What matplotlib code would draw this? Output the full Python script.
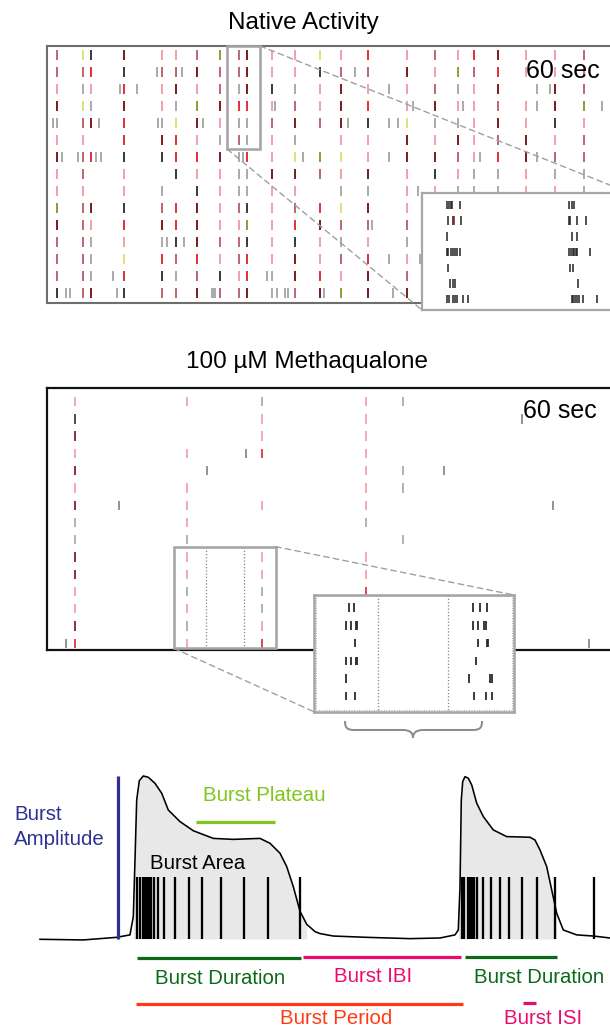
import numpy as np
import matplotlib
matplotlib.use("Agg")
import matplotlib.pyplot as plt
from matplotlib.patches import Rectangle, ConnectionPatch, PathPatch
from matplotlib.path import Path

plt.rcParams['font.family'] = ['Liberation Sans', 'DejaVu Sans']

W, H, DPI = 610, 1026, 100
PT = 72.0 / DPI  # points per pixel

# ======================= DATA =======================
# --- Native activity raster: network-burst times (s) and per-channel colour codes
native_burst_t = [1.03, 3.57, 4.37, 7.73, 11.47, 12.9, 14.97, 17.3, 19.2, 19.97, 22.47, 24.8,
                  27.3, 29.4, 32.13, 36.03, 38.8, 41.13, 42.73, 45.13, 47.87, 50.8, 53.7]
native_codes = [
    "mykdppmomdppyprpmprdppm",
    "mmrkmmdmmdppkmmdpomrppm",
    "pgprpdpmgdkgpdppmgpd.dm",
    "dygdpgodrrpmpdrpdppmpdo",
    "gmdrgydpggmdmdkyggpdpkp",
    "pp.rdrpgmgpg.ppdpdpmdpm",
    "dmrkkrrdgrpyoypddmprdmm",
    "pm.p.kppggddmpdpkpggpgg",
    "pp.pg.kpggpp.ggppgggppg",
    "omdkmrdpmkpmrydppmrdppm",
    "dmprdrdppoprdmmmpprdppm",
    "mmgpgkdmmkpkpgpgppmdpgm",
    "mmgyrmrpmrpdpmrppprdppm",
    "mmgrkgmkprgdrpdmpprdppm",
    "kmdkmmdmmdgmdoddpprdppm",
]
native_extra_row = [1, 1, 1, 2, 2, 2, 2, 2, 3, 3, 3, 3, 3, 4, 4, 4, 4, 4, 4, 4,
                    6, 6, 6, 6, 6, 6, 6, 6, 6, 8, 10, 11, 11, 12, 12, 13, 13,
                    14, 14, 14, 14, 14, 14, 14, 14, 14, 14, 14]
native_extra_t = [10.97, 13.47, 30.8, 7.3, 8.97, 34.23, 48.97, 50.3, 22.8, 36.63, 41.63, 48.97, 55.47,
                  0.63, 5.23, 11.13, 15.63, 30.13, 34.23, 35.13,
                  1.47, 3.13, 4.9, 5.37, 19.63, 25.63, 34.23, 43.3, 48.97, 37.13, 32.47, 11.97, 13.7,
                  34.23, 37.3, 6.57, 21.97,
                  1.9, 2.3, 6.97, 16.47, 16.63, 16.8, 22.97, 23.8, 24.13, 27.7, 34.63]
native_zoom_t = (18.0, 21.3)
native_zoom_rows = (-0.53, 5.53)
# zoomed inset (s within the zoom window, 7 channels)
native_inset = [
    [0.253, 0.273, 0.287, 0.303, 0.38, 1.473, 1.497, 1.52],
    [0.263, 0.313, 0.323, 0.39, 1.47, 1.48, 1.547, 1.637],
    [0.247, 1.497, 1.547],
    [0.247, 0.263, 0.287, 0.307, 0.33, 0.353, 0.38, 1.473, 1.487, 1.507, 1.52, 1.54, 1.553, 1.68],
    [0.26, 1.48, 1.513],
    [0.28, 0.307, 0.333, 1.56],
    [0.253, 0.273, 0.313, 0.33, 0.347, 0.407, 0.463, 1.497, 1.513, 1.53, 1.547, 1.573, 1.607, 1.753],
]
native_inset_red = (1, 0.323)

# --- 100 uM Methaqualone raster
meth_burst_t = [2.83, 13.95, 21.45, 31.92, 35.55]
meth_codes = ["pkdpdpdggddppdr", "p..p.pppgppgpgp", "gppr..p..ppggpr",
              "pppppppg.pprppp", "g...gg..g......"]
meth_extra_row = [3, 4, 4, 6, 6, 14, 14, 1]
meth_extra_t = [19.85, 15.99, 39.66, 7.23, 50.57, 1.92, 54.2, 47.48]
meth_zoom_t = (12.68, 22.86)
meth_zoom_rows = (8.40, 14.29)
meth_zoom_marks = [15.85, 19.74]
meth_inset = [
    [0.353, 0.397, 1.589, 1.662, 1.735],
    [0.317, 0.371, 0.418, 0.433, 1.589, 1.637, 1.698, 1.717],
    [0.415, 1.644, 1.727, 1.742],
    [0.324, 0.371, 0.418, 0.433, 1.618],
    [0.317, 1.553, 1.764, 1.778],
    [0.324, 0.411, 1.60, 1.717, 1.782],
]
meth_inset_marks = [0.637, 1.342]

# --- Burst schematic: population trace (time, amplitude) and spike times
trace_t = [40, 83.3, 116.7, 130, 133.3, 135, 136.7, 139.3, 143.3, 148.3, 155, 161.7, 168.3, 180,
           193.3, 213.3, 233.3, 260, 270, 280, 286.7, 293.3, 300, 306.7, 315, 320, 333.3, 366.7,
           410, 440, 455, 458.3, 460, 461.3, 462.7, 465, 468.3, 471.7, 476.7, 483.3, 493.3,
           506.7, 530, 535, 540, 546.7, 551.7, 556.7, 563.3, 576.7, 593.3, 610]
trace_a = [-0.002, -0.006, 0.01, 0.025, 0.137, 0.485, 0.853, 0.971, 1.0, 0.992, 0.955, 0.894,
           0.791, 0.72, 0.664, 0.617, 0.611, 0.617, 0.587, 0.526, 0.444, 0.321, 0.17, 0.09,
           0.045, 0.033, 0.018, 0.01, 0.002, 0.006, 0.025, 0.055, 0.321, 0.853, 0.965, 0.996,
           0.986, 0.945, 0.833, 0.751, 0.669, 0.628, 0.624, 0.607, 0.546, 0.444, 0.301, 0.158,
           0.055, 0.025, 0.018, 0.006]
burst_windows = [(133.3, 306.7), (458.3, 556.7)]
spike_t = [137.4, 139.7, 143, 145, 147.3, 149, 151, 154.3, 157.7, 164.3, 174.5, 188.5, 202,
           221, 244.3, 268.3, 300,
           461.7, 464, 468.3, 470.2, 472.1, 474, 476.7, 482.5, 490.5, 499.5, 509.3, 521.7,
           536.7, 555, 594.3]
spike_height = 0.38
amplitude_t = 117.7
amplitude = 1.0
plateau_span = (196, 275, 0.716)
measure_names = ["Burst Duration", "Burst IBI", "Burst Period", "Burst Duration", "Burst ISI"]
measure_start = [136.7, 302.7, 136.0, 465.0, 522.7]
measure_end = [300.7, 460.7, 462.7, 556.7, 536.0]
measure_level = [-0.115, -0.113, -0.399, -0.110, -0.391]
measure_colors = ["#0b6a16", "#ea0b6e", "#ff3a12", "#0b6a16", "#ea0b6e"]

# ======================= STYLE =======================
palette = {'p': '#f2a3a9', 'r': '#e2343d', 'm': '#bb6c73', 'd': '#7c2226',
           'g': '#acacac', 'k': '#3e3e3e', 'y': '#dfe27a', 'o': '#9c9a36'}
box_gray = '#a6a6a6'

fig = plt.figure(figsize=(W / DPI, H / DPI), dpi=DPI)


def px_axes(x0, y0, x1, y1, **kw):
    return fig.add_axes([x0 / W, 1 - y1 / H, (x1 - x0) / W, (y1 - y0) / H], **kw)


def clean(ax, color, lw):
    ax.set_xticks([])
    ax.set_yticks([])
    for s in ax.spines.values():
        s.set_color(color)
        s.set_linewidth(lw)


# ---------------- Panel 1: Native activity ----------------
ax1 = px_axes(47, 46, 647, 303)
ax1.set_xlim(0, 60)
ax1.set_ylim(14.59, -0.53)
clean(ax1, '#6e6e6e', 1.5)
xs, ys, cs = [], [], []
for r, code in enumerate(native_codes):
    for t, c in zip(native_burst_t, code):
        if c != '.':
            xs.append(t); ys.append(r); cs.append(palette[c])
for r, t in zip(native_extra_row, native_extra_t):
    xs.append(t); ys.append(r); cs.append(palette['g'])
ys = np.array(ys, float)
ax1.vlines(xs, ys - 0.27, ys + 0.27, colors=cs, lw=2.0 * PT)
ax1.add_patch(Rectangle((native_zoom_t[0], native_zoom_rows[0]),
                        native_zoom_t[1] - native_zoom_t[0],
                        native_zoom_rows[1] - native_zoom_rows[0],
                        fill=False, ec=box_gray, lw=2.6 * PT, clip_on=False, zorder=5))

in1 = px_axes(422, 193, 630, 310, zorder=2)
in1.set_xlim(0, 2.08)
in1.set_ylim(6.69, -0.76)
in1.set_facecolor('white')
clean(in1, box_gray, 2.2 * PT)
for r, times in enumerate(native_inset):
    cols = ['#8a1a1a' if (r, t) == native_inset_red else '#1e1e1e' for t in times]
    in1.vlines(times, r - 0.27, r + 0.27, colors=cols, lw=1.5 * PT)

for xyA, xyB in [((native_zoom_t[1], native_zoom_rows[0]), (1, 1)),
                 ((native_zoom_t[0], native_zoom_rows[1]), (0, 0))]:
    cp = ConnectionPatch(xyA=xyA, coordsA=ax1.transData, xyB=xyB, coordsB=in1.transAxes,
                         color='#a0a0a0', lw=1.4 * PT, ls=(0, (4, 3)), zorder=3)
    fig.add_artist(cp)

# ---------------- Panel 2: Methaqualone ----------------
ax2 = px_axes(47, 388, 647, 650)
ax2.set_xlim(0, 60)
ax2.set_ylim(14.39, -0.79)
clean(ax2, '#111111', 2.2 * PT)
xs, ys, cs = [], [], []
for t, code in zip(meth_burst_t, meth_codes):
    for r, c in enumerate(code):
        if c != '.':
            xs.append(t); ys.append(r); cs.append(palette[c])
for r, t in zip(meth_extra_row, meth_extra_t):
    xs.append(t); ys.append(r); cs.append('#8a8a8a')
ys = np.array(ys, float)
ax2.vlines(xs, ys - 0.27, ys + 0.27, colors=cs, lw=1.8 * PT)
ax2.vlines(meth_zoom_marks, meth_zoom_rows[0], meth_zoom_rows[1], colors='#8a8a8a',
           lw=1.3 * PT, linestyles=(0, (1, 1.5)))
ax2.add_patch(Rectangle((meth_zoom_t[0], meth_zoom_rows[0]),
                        meth_zoom_t[1] - meth_zoom_t[0],
                        meth_zoom_rows[1] - meth_zoom_rows[0],
                        fill=False, ec=box_gray, lw=2.6 * PT, clip_on=False, zorder=5))

in2 = px_axes(313.8, 595, 513.8, 711.7, zorder=2)
in2.set_xlim(0, 2)
in2.set_ylim(5.88, -0.72)
in2.set_facecolor('white')
clean(in2, box_gray, 2.6 * PT)
for r, times in enumerate(meth_inset):
    in2.vlines(times, r - 0.24, r + 0.24, colors='#2a2a2a', lw=1.8 * PT)
in2.vlines(meth_inset_marks, -0.72, 5.88, colors='#8a8a8a', lw=1.3 * PT,
           linestyles=(0, (1, 1.5)))
in2.add_patch(Rectangle((0.02, -0.64), 1.96, 6.44, fill=False, ec='#b0b0b0',
                        lw=1.0 * PT, ls=(0, (1, 1.5))))

for xyA, xyB in [((meth_zoom_t[1], meth_zoom_rows[0]), (1, 1)),
                 ((meth_zoom_t[0], meth_zoom_rows[1]), (0, 0))]:
    cp = ConnectionPatch(xyA=xyA, coordsA=ax2.transData, xyB=xyB, coordsB=in2.transAxes,
                         color='#a0a0a0', lw=1.4 * PT, ls=(0, (4, 3)), zorder=3)
    fig.add_artist(cp)

# ---------------- overlay (titles, brace) ----------------
ov = fig.add_axes([0, 0, 1, 1], zorder=10)
ov.set_xlim(0, W)
ov.set_ylim(H, 0)
ov.axis('off')
ov.patch.set_alpha(0)
ov.text(303, 22.7, "Native Activity", ha='center', va='center', fontsize=17.5)
ov.text(307.5, 361.7, "100 \u00b5M Methaqualone", ha='center', va='center', fontsize=17.5)
ov.text(562.5, 71.5, "60 sec", ha='center', va='center', fontsize=18)
ov.text(559.5, 410.5, "60 sec", ha='center', va='center', fontsize=18)
verts = [(345, 721), (345, 728), (347, 730), (355, 730), (403, 730),
         (410, 730), (413, 733), (413, 738), (413, 733), (416, 730), (423, 730),
         (472, 730), (480, 730), (482, 728), (482, 721)]
codes = [Path.MOVETO, Path.CURVE4, Path.CURVE4, Path.CURVE4, Path.LINETO,
         Path.CURVE4, Path.CURVE4, Path.CURVE4, Path.CURVE4, Path.CURVE4, Path.CURVE4,
         Path.LINETO, Path.CURVE4, Path.CURVE4, Path.CURVE4]
ov.add_patch(PathPatch(Path(verts, codes), fill=False, ec='#8c8c8c', lw=2.0 * PT))

# ---------------- Burst schematic ----------------
sc = px_axes(0, 760, 610, 1026)
sc.set_xlim(0, 610)
sc.set_ylim(-0.534, 1.098)
sc.axis('off')
tt = np.array(trace_t)
aa = np.array(trace_a)
for lo, hi in burst_windows:
    m = (tt >= lo) & (tt <= hi)
    sc.fill_between(tt[m], aa[m], 0, color='#e8e8e8', lw=0, zorder=1)
sc.vlines(spike_t, 0, spike_height, colors='black', lw=2.3 * PT, zorder=2)
sc.plot(tt, aa, color='black', lw=1.6 * PT, zorder=3, solid_joinstyle='round')
sc.vlines([amplitude_t], 0, amplitude, colors='#2e3192', lw=3.2 * PT, zorder=3)
sc.hlines([plateau_span[2]], plateau_span[0], plateau_span[1], colors='#80c41c', lw=3.2 * PT)
for s, e, lv, col in zip(measure_start, measure_end, measure_level, measure_colors):
    sc.hlines([lv], s, e, colors=col, lw=3.2 * PT)

fs = 14.7
sc.text(14, 0.761, "Burst", color='#2e3192', fontsize=fs, va='center', ha='left')
sc.text(14, 0.613, "Amplitude", color='#2e3192', fontsize=fs, va='center', ha='left')
sc.text(202.7, 0.883, "Burst Plateau", color='#80c41c', fontsize=fs, va='center', ha='left')
sc.text(150, 0.466, "Burst Area", color='black', fontsize=fs, va='center', ha='left', zorder=4)
label_pos = [(155, -0.241, 'left'), (372.7, -0.231, 'center'), (336, -0.485, 'center'),
             (474, -0.235, 'left'), (543.3, -0.485, 'center')]
for name, col, (x, y, ha) in zip(measure_names, measure_colors, label_pos):
    sc.text(x, y, name, color=col, fontsize=fs, va='center', ha=ha)

fig.savefig("out.png", dpi=DPI)
